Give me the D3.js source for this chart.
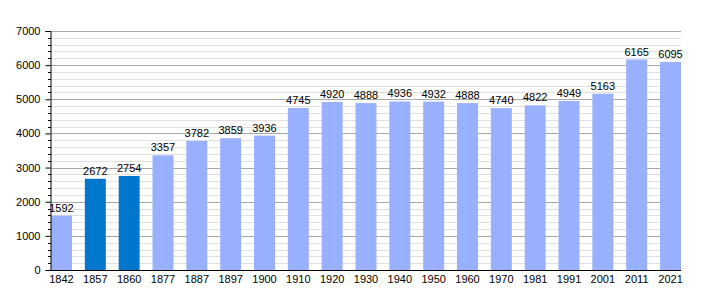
<!DOCTYPE html>
<html>
  <head>
    <script src="https://d3js.org/d3.v7.min.js"></script>
    <style>
      body { margin: 0; background: #fff; }
      text { font-family: "Liberation Sans", Arial, sans-serif; font-size: 11px; fill: #000; }
    </style>
  </head>
  <body>
    <svg width="710" height="300"></svg>
    <script>
      // data
      var years = ["1842", "1857", "1860", "1877", "1887", "1897", "1900", "1910", "1920", "1930",
                   "1940", "1950", "1960", "1970", "1981", "1991", "2001", "2011", "2021"];
      var population = [1592, 2672, 2754, 3357, 3782, 3859, 3936, 4745, 4920, 4888,
                        4936, 4932, 4888, 4740, 4822, 4949, 5163, 6165, 6095];
      var highlighted = ["1857", "1860"];
      var yTicks = [0, 1000, 2000, 3000, 4000, 5000, 6000, 7000];

      var svg = d3.select("svg");
      var plotLeft = 51, plotRight = 681, plotTop = 31, plotBottom = 270;
      var minorTicks = d3.range(200, 7000, 200).filter(function(d) { return d % 1000 !== 0; });

      var x = d3.scaleBand()
          .domain(years)
          .range([plotLeft, plotRight])
          .paddingInner(0.38)
          .paddingOuter(0);

      var y = d3.scaleLinear()
          .domain([0, 7000])
          .range([plotBottom, plotTop]);

      function py(d) { return Math.round(y(d)) + 0.5; }

      // minor grid
      svg.append("g")
        .selectAll("line")
        .data(minorTicks)
        .join("line")
          .attr("x1", plotLeft)
          .attr("x2", plotRight)
          .attr("y1", py)
          .attr("y2", py)
          .attr("stroke", "#e0e0e0");

      // major grid
      svg.append("g")
        .selectAll("line")
        .data(yTicks.slice(1))
        .join("line")
          .attr("x1", plotLeft)
          .attr("x2", plotRight)
          .attr("y1", py)
          .attr("y2", py)
          .attr("stroke", "#a8a8a8");

      // bars
      svg.append("g")
        .selectAll("rect")
        .data(years)
        .join("rect")
          .attr("x", function(d) { return x(d); })
          .attr("y", function(d, i) { return y(population[i]); })
          .attr("width", x.bandwidth())
          .attr("height", function(d, i) { return plotBottom - y(population[i]); })
          .attr("fill", function(d) { return highlighted.indexOf(d) >= 0 ? "#0077cc" : "#99b0ff"; });

      // value labels
      svg.append("g")
        .selectAll("text")
        .data(years)
        .join("text")
          .attr("x", function(d) { return x(d) + x.bandwidth() / 2; })
          .attr("y", function(d, i) { return y(population[i]) - 4; })
          .attr("text-anchor", "middle")
          .text(function(d, i) { return population[i]; });

      // y axis
      var yAxis = svg.append("g")
          .attr("transform", "translate(" + (plotLeft - 0.5) + ",0)")
          .call(d3.axisLeft(y).tickValues(yTicks).tickSize(5).tickPadding(5).tickFormat(d3.format("d")));
      yAxis.select(".domain").attr("stroke", "#000");
      yAxis.selectAll("text").style("font-size", "11px").attr("fill", "#000");

      // minor ticks
      svg.append("g")
        .selectAll("line")
        .data(minorTicks)
        .join("line")
          .attr("x1", plotLeft - 3)
          .attr("x2", plotLeft)
          .attr("y1", py)
          .attr("y2", py)
          .attr("stroke", "#000");

      // x axis
      var xAxis = svg.append("g")
          .attr("transform", "translate(0," + (plotBottom + 0.5) + ")")
          .call(d3.axisBottom(x).tickSize(0).tickPadding(5));
      xAxis.select(".domain").attr("stroke", "#000").attr("d", "M" + (plotLeft - 1) + ",0H" + plotRight);
      xAxis.selectAll("text").style("font-size", "11px").attr("fill", "#000");
    </script>
  </body>
</html>
